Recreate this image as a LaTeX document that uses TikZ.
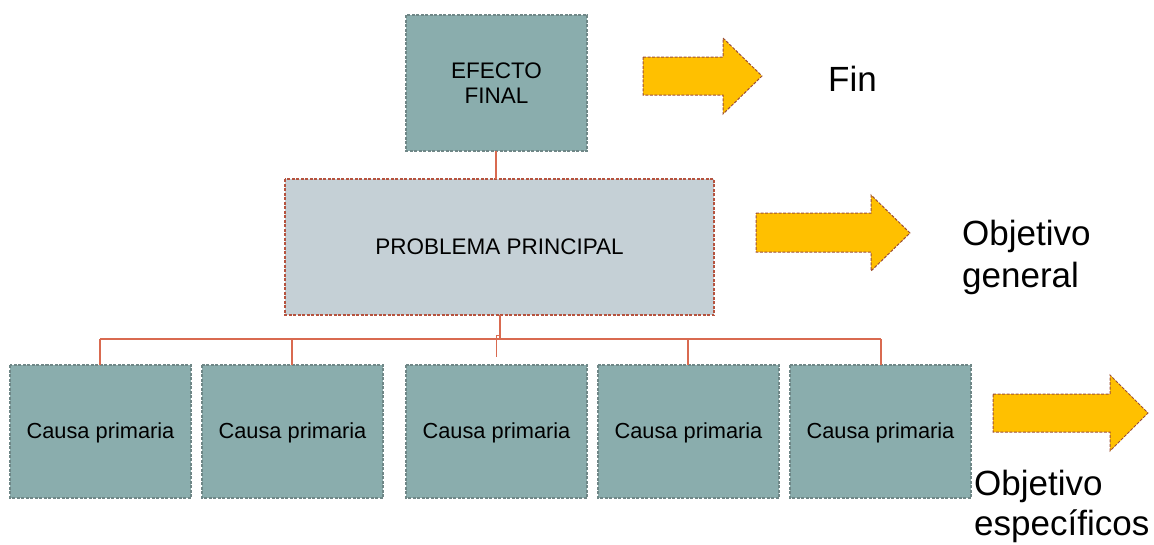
\documentclass[tikz,border=0pt]{standalone}
\usepackage{fontspec}
\setmainfont{Liberation Sans}
\definecolor{teal}{HTML}{8AADAD}
\definecolor{tealedge}{HTML}{6F8787}
\definecolor{pale}{HTML}{C5D0D6}
\definecolor{redline}{HTML}{D96A50}
\definecolor{redbox}{HTML}{B5533F}
\definecolor{gold}{HTML}{FFC000}
\definecolor{arrowedge}{HTML}{9B4E3A}
\begin{document}
\begin{tikzpicture}[x=1pt,y=-1pt,
  dashedge/.style={dash pattern=on 3pt off 1.5pt, line width=1.1pt},
  tealbox/.style={fill=teal, draw=tealedge, dashedge},
  boxtext/.style={font=\fontsize{22.5}{25}\selectfont, align=center},
  causetext/.style={font=\fontsize{21.8}{25}\selectfont, align=center},
  bigtext/.style={font=\fontsize{35}{42}\selectfont, inner sep=0pt, anchor=base west},
  conn/.style={draw=redline, line width=1.2pt},
  arrowshape/.style={fill=gold, draw=arrowedge, dashedge, line width=1pt}]
\useasboundingbox (0,0) rectangle (1154,544);

% boxes
\draw[tealbox] (406,15) rectangle (587,151);
\node[boxtext] (ef) at (496.5,83) {EFECTO\\FINAL};
\coordinate (efs) at (496,151);

\draw[fill=pale, draw=redbox, dashedge] (285,179) rectangle (714,315);
\node[boxtext] (pp) at (499.5,247) {PROBLEMA PRINCIPAL};
\coordinate (ppn) at (496,179);
\coordinate (pps) at (500,315);

\foreach \i/\xa in {1/10,2/202,3/406,4/598,5/790}{
  \draw[tealbox] (\xa,365) rectangle ({\xa+181},498);
  \node[causetext] (c\i) at ({\xa+90.5},433) {Causa primaria};
  \coordinate (c\i n) at ({\xa+90.5},365);
}

% connectors
\draw[conn] (efs) -- (ppn);
\coordinate (hub) at (500,339);
\coordinate (bl) at (100,339);
\coordinate (br) at (881,339);
\draw[conn] (pps) -- (hub);
\draw[conn] (bl) -- (br);
\draw[conn] (bl) -- (100,365);
\draw[conn] (292,339) -- (292,365);
\draw[conn] (688,339) -- (688,365);
\draw[conn] (br) -- (881,365);
\coordinate (stubtop) at (496,335);
\coordinate (stubend) at (496,357);
\draw[conn, line width=1pt] (hub) -- (500,335) -- (stubtop) -- (stubend);

% arrows
\draw[arrowshape] (643,57) -- (723,57) -- (723,38) -- (762,76) -- (723,114) -- (723,95) -- (643,95) -- cycle;
\draw[arrowshape] (756,213) -- (871,213) -- (871,195) -- (910,233) -- (871,271) -- (871,252) -- (756,252) -- cycle;
\draw[arrowshape] (993,394) -- (1110,394) -- (1110,375) -- (1148,413) -- (1110,451) -- (1110,432) -- (993,432) -- cycle;

% labels
\node[bigtext] (fin) at (828,91) {Fin};
\node[bigtext] (og1) at (962,245) {Objetivo};
\node[bigtext] (og2) at (962,287) {general};
\node[bigtext] (oe1) at (974,495) {Objetivo};
\node[bigtext] (oe2) at (974,535) {específicos};
\end{tikzpicture}
\end{document}
